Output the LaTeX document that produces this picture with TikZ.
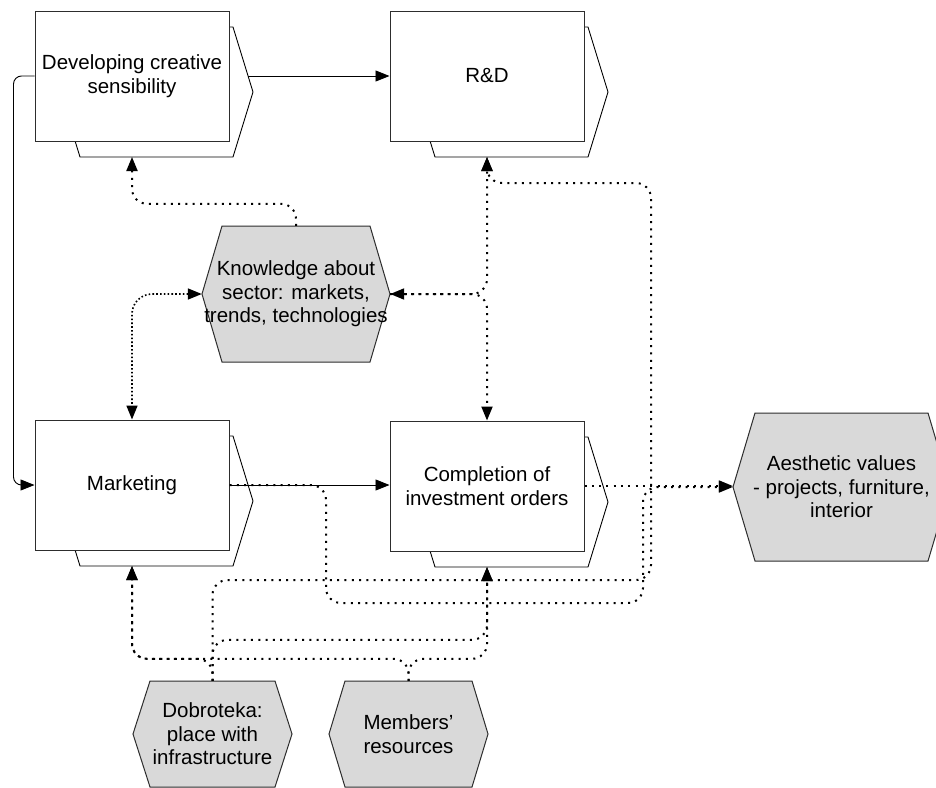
\documentclass[tikz,border=0pt]{standalone}
\usepackage{fontspec}
\setmainfont{Liberation Sans}
\usetikzlibrary{arrows.meta,calc}
\definecolor{hexgray}{RGB}{217,217,217}
\definecolor{edgecol}{RGB}{45,45,45}
\tikzset{
  Tri/.tip={Triangle[length=14pt,width=11pt]},
  labelfont/.style={font=\fontsize{20.5}{23.5}\selectfont},
  procbox/.style={draw=edgecol, line width=1pt, fill=white, minimum width=194pt,
    minimum height=130pt, align=center, inner sep=0pt, labelfont},
  shadowshape/.style={draw=black, line width=0.9pt, fill=white, line join=miter},
  hexnode/.style 2 args={align=center, inner sep=0pt, minimum width=#1pt,
    minimum height=#2pt, labelfont},
  hexfill/.style={draw=edgecol, line width=1pt, fill=hexgray},
  flowline/.style={line width=0.9pt, draw=black, -Tri},
  dotline/.style={line width=2pt, draw=black, dash pattern=on 2pt off 5.3pt,
    rounded corners=15pt},
  densedot/.style={line width=1.6pt, draw=black, dash pattern=on 1.6pt off 2.2pt,
    rounded corners=20pt},
}
% shadow of a process box centred at (#1,#2)
\newcommand\procshadow[2]{%
  \draw[shadowshape, shift={(#1,#2)}] (-52,-49) -- (101,-49) -- (121,16) -- (101,81)
    -- (-52,81) -- (-72,16) -- cycle;}
% hexagon centred at (#1,#2), half width #3, half height #4, inset #5
\newcommand\hexat[5]{%
  \draw[hexfill, shift={(#1,#2)}] (-#3,0) -- (-#3+#5,-#4) -- (#3-#5,-#4) -- (#3,0)
    -- (#3-#5,#4) -- (-#3+#5,#4) -- cycle;}
\begin{document}
\begin{tikzpicture}[x=1pt,y=-1pt]
\useasboundingbox[fill=white] (0,0) rectangle (936,787);

% process boxes
\procshadow{132}{76}
\node[procbox] (dev) at (132,76) {Developing creative\\sensibility};
\procshadow{487}{76}
\node[procbox] (rd) at (487,76) {R\&D};
\procshadow{132}{485}
\node[procbox] (mkt) at (132,485) {Marketing};
\procshadow{487}{486}
\node[procbox] (cmp) at (487,486) {Completion of\\investment orders};

\coordinate (devE) at (248,76);
\coordinate (devS) at (132,157);
\coordinate (rdS) at (487,157);
\coordinate (mktS) at (132,566);
\coordinate (cmpS) at (487,567);

% hexagons
\hexat{296}{294}{94}{68}{20}
\node[hexnode={188}{136}] (know) at (296,294) {Knowledge about\\sector: markets,\\trends, technologies};
\hexat{841.5}{487}{108.5}{74}{22}
\node[hexnode={217}{148}] (aest) at (841.5,487) {Aesthetic values\\- projects, furniture,\\interior};
\hexat{212.5}{734}{79.5}{53}{17}
\node[hexnode={159}{106}] (dob) at (212.5,734) {Dobroteka:\\place with\\infrastructure};
\hexat{408.5}{734}{79.5}{53}{16}
\node[hexnode={159}{106}] (mem) at (408.5,734) {Members'\\resources};

% solid connectors
\draw[flowline] (devE) -- (devE -| rd.west);
\draw[flowline, rounded corners=8pt] (dev.west) -- ++(-21,0) |- (mkt.west);
\draw[flowline] (mkt.east) -- (mkt.east -| cmp.west);

% dotted connectors
\draw[dotline, -Tri] (know.north) -- ++(0,-22) -| (devS);
\draw[densedot, Tri-Tri] (know.west) -| (mkt.north);
\draw[dotline, Tri-Tri] (know.east) -| (rdS);
\draw[dotline, -Tri] (know.east) -| (cmp.north);

\draw[dotline, -Tri] (dob.north) -- ++(0,-22) -| (mktS);
\draw[dotline, -Tri] (mem.north) -- ++(0,-22) -| (mktS);
\draw[dotline, -Tri] (mem.north) -- ++(0,-22) -| (cmpS);
\draw[dotline, -Tri] (dob.north) -- ++(0,-41) -| (cmpS);
\draw[dotline, -Tri] (dob.north) |- (651,580) |- (487,183) -- (rdS);

\draw[dotline, -Tri] (mkt.east) -| (326,603) -| (643,487) -- (aest.west);
\draw[dotline, -Tri] (cmp.east) -- (cmp.east -| aest.west);
\end{tikzpicture}
\end{document}
